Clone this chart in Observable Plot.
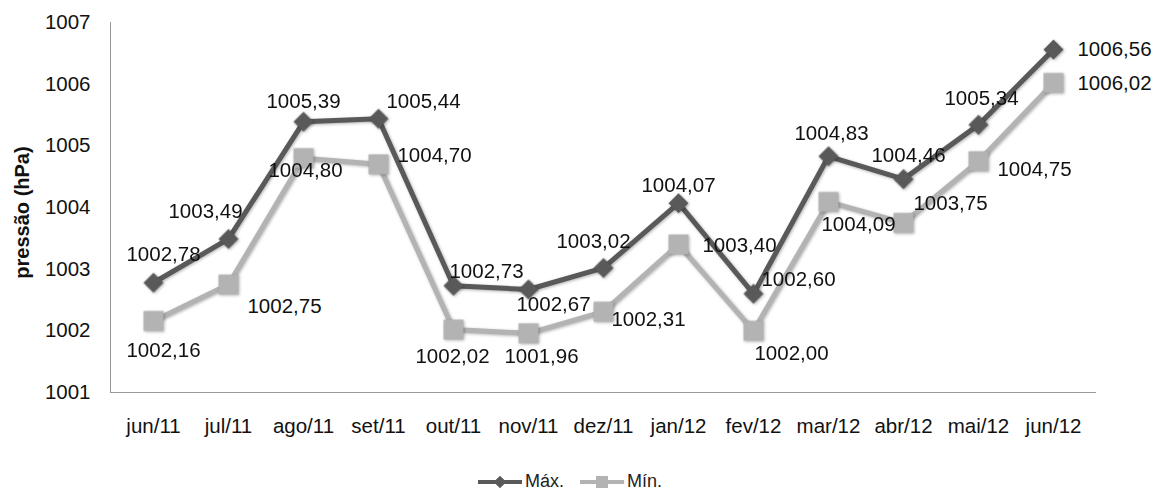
<!DOCTYPE html>
<html>
<head>
<meta charset="utf-8">
<script src="https://cdn.jsdelivr.net/npm/d3@7"></script>
<script src="https://cdn.jsdelivr.net/npm/@observablehq/plot@0.6"></script>
<style>
  html, body { margin: 0; padding: 0; background: #fff; }
  #chart { width: 1170px; font-family: "Liberation Sans", Arial, sans-serif; }
  #chart svg g[aria-label="dot"],
  #chart svg g[aria-label="line"] { filter: drop-shadow(1.5px 1.5px 1.5px rgba(0,0,0,0.3)); }
  .legend { display: flex; justify-content: center; align-items: center; gap: 16px;
            font-family: "Liberation Sans", Arial, sans-serif; font-size: 18px; color: #222;
            height: 31px; margin-top: 6px; margin-left: -30px; }
  .legend span { display: inline-flex; align-items: center; gap: 3px; }
</style>
</head>
<body>
<div id="chart"></div>
<script>
// Monthly mean pressure, June 2011 – June 2012
const months = ["jun/11", "jul/11", "ago/11", "set/11", "out/11", "nov/11", "dez/11",
                "jan/12", "fev/12", "mar/12", "abr/12", "mai/12", "jun/12"];
const maxValues = [1002.78, 1003.49, 1005.39, 1005.44, 1002.73, 1002.67, 1003.02,
                   1004.07, 1002.60, 1004.83, 1004.46, 1005.34, 1006.56];
const minValues = [1002.16, 1002.75, 1004.80, 1004.70, 1002.02, 1001.96, 1002.31,
                   1003.40, 1002.00, 1004.09, 1003.75, 1004.75, 1006.02];
const yTicks = [1001, 1002, 1003, 1004, 1005, 1006, 1007];
const seriesNames = ["Máx.", "Mín."];

// Label placement (pixel nudges relative to each point)
const maxLabelOffsets = [[10,-28],[-23,-28],[0,-20],[45,-17],[33,-14],[25,15],[-10,-26],
                         [0,-18],[45,-14],[3,-23],[5,-24],[3,-26],[61,0]];
const minLabelOffsets = [[10,29],[56,22],[2,12],[56,-9],[-1,27],[13,23],[45,8],
                         [61,1],[38,23],[30,22],[47,-19],[56,8],[61,1]];

const colMax = "#595959";
const colMin = "#b3b3b3";

const fmt = v => v.toFixed(2).replace(".", ",");
const maxData = months.map((m, i) => ({month: m, value: maxValues[i]}));
const minData = months.map((m, i) => ({month: m, value: minValues[i]}));

const labelMarks = (data, offsets) => data.map((d, i) =>
  Plot.text([d], {x: "month", y: "value", text: d => fmt(d.value),
    dx: offsets[i][0], dy: offsets[i][1], fontSize: 20.5, fill: "#111"}));

const chart = Plot.plot({
  width: 1170,
  height: 460,
  marginLeft: 110,
  marginRight: 75,
  marginTop: 22,
  marginBottom: 68,
  style: {fontFamily: "Liberation Sans, Arial, sans-serif", background: "#fff", overflow: "visible"},
  x: {type: "point", domain: months, padding: 0.5},
  y: {domain: [1001, 1007]},
  marks: [
    Plot.frame({anchor: "left", stroke: "#999"}),
    Plot.frame({anchor: "bottom", stroke: "#999"}),
    Plot.axisY({ticks: yTicks, tickSize: 0, tickPadding: 20, fontSize: 20.5, fill: "#111",
      tickFormat: d => String(d), label: null}),
    Plot.axisX({tickSize: 0, tickPadding: 26, fontSize: 20.5, fill: "#111", label: null}),
    Plot.text(["pressão (hPa)"], {frameAnchor: "left", textAnchor: "middle", dx: -88, dy: 5,
      rotate: -90, fontSize: 20, fontWeight: "bold", fill: "#111", text: d => d}),
    Plot.line(minData, {x: "month", y: "value", stroke: colMin, strokeWidth: 5}),
    Plot.line(maxData, {x: "month", y: "value", stroke: colMax, strokeWidth: 5}),
    Plot.dot(minData, {x: "month", y: "value", symbol: "square", r: 11.2, fill: colMin}),
    Plot.dot(maxData, {x: "month", y: "value", symbol: "square", r: 8, rotate: 45, fill: colMax}),
    ...labelMarks(maxData, maxLabelOffsets),
    ...labelMarks(minData, minLabelOffsets)
  ]
});
document.getElementById("chart").appendChild(chart);

// Legend below the chart
const legend = document.createElement("div");
legend.className = "legend";
const swatch = (color, shape) => `<svg width="44" height="14" viewBox="0 0 44 14">
  <line x1="0" y1="7" x2="44" y2="7" stroke="${color}" stroke-width="4"/>
  ${shape === "diamond"
    ? `<rect x="17.5" y="2.5" width="9" height="9" fill="${color}" transform="rotate(45 22 7)"/>`
    : `<rect x="16" y="1" width="12" height="12" fill="${color}"/>`}
</svg>`;
legend.innerHTML =
  `<span>${swatch(colMax, "diamond")}${seriesNames[0]}</span>` +
  `<span>${swatch(colMin, "square")}${seriesNames[1]}</span>`;
document.getElementById("chart").appendChild(legend);
</script>
</body>
</html>
